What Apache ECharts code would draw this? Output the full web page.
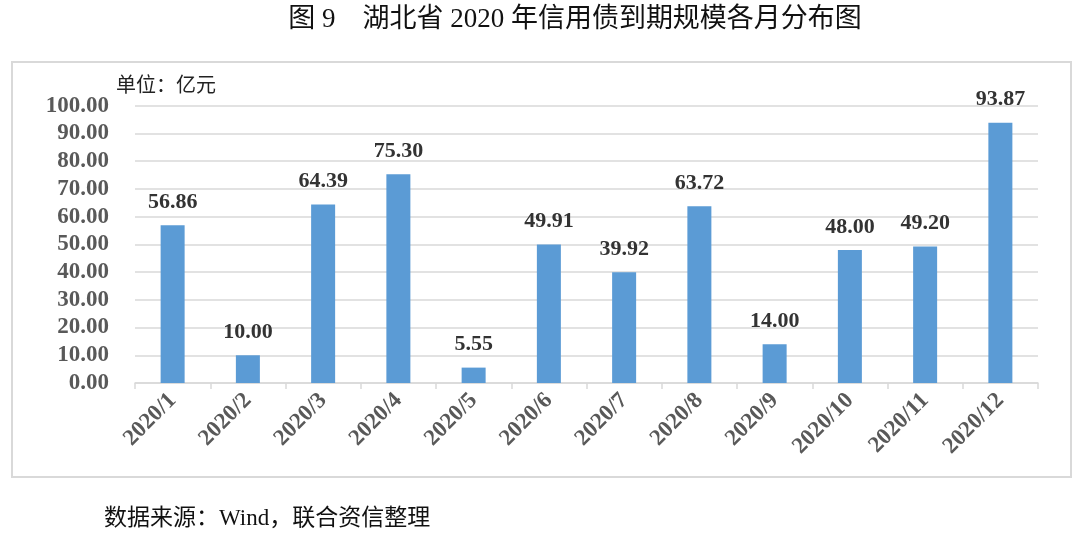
<!DOCTYPE html>
<html>
<head>
<meta charset="utf-8">
<script src="https://cdn.jsdelivr.net/npm/echarts@6/dist/echarts.min.js"></script>
<style>
html,body{margin:0;padding:0;background:#fff;}
#chart{width:1080px;height:540px;}
</style>
</head>
<body>
<div id="chart"></div>
<script>
var categories = ['2020/1','2020/2','2020/3','2020/4','2020/5','2020/6','2020/7','2020/8','2020/9','2020/10','2020/11','2020/12'];
var values = [56.86, 10.00, 64.39, 75.30, 5.55, 49.91, 39.92, 63.72, 14.00, 48.00, 49.20, 93.87];
var titleText = '图 9\u3000湖北省 2020 年信用债到期规模各月分布图';
var unitText = '单位：亿元';
var sourceText = '数据来源：Wind，联合资信整理';

var SERIF = "'Liberation Serif','Times New Roman','Noto Sans CJK SC',serif";
var chart = echarts.init(document.getElementById('chart'), null, {renderer:'canvas'});
chart.setOption({
  backgroundColor:'#fff',
  animation:false,
  graphic:[
    {type:'rect', shape:{x:12, y:62, width:1059, height:415}, style:{fill:'none', stroke:'#d9d9d9', lineWidth:2}, silent:true, z:-1},
    {type:'text', x:575, y:6, style:{text:titleText, font:"27px "+SERIF, fill:'#111', align:'center'}},
    {type:'text', left:116, top:77, style:{text:unitText, font:"20px "+SERIF, fill:'#222'}},
    {type:'text', left:104, top:507, style:{text:sourceText, font:"23px "+SERIF, fill:'#111'}}
  ],
  grid:{left:135, right:42, top:105.7, bottom:157, containLabel:false},
  xAxis:{
    type:'category', data:categories,
    axisLine:{lineStyle:{color:'#d9d9d9', width:1.5}},
    axisTick:{show:true, length:6, lineStyle:{color:'#d9d9d9', width:1.5}},
    axisLabel:{rotate:45, margin:14, color:'#595959', fontFamily:SERIF, fontWeight:'bold', fontSize:23}
  },
  yAxis:{
    type:'value', min:0, max:100, interval:10,
    axisLine:{show:false}, axisTick:{show:false},
    splitLine:{lineStyle:{color:'#d9d9d9', width:1.5}},
    axisLabel:{margin:26, color:'#595959', fontFamily:SERIF, fontWeight:'bold', fontSize:23,
      formatter:function(v){return v.toFixed(2);}}
  },
  series:[{
    type:'bar', data:values, barWidth:24,
    itemStyle:{color:'#5B9BD5'},
    label:{show:true, position:'top', distance:12, color:'#333', fontFamily:SERIF, fontWeight:'bold', fontSize:22,
      formatter:function(p){return p.value.toFixed(2);}}
  }]
});
</script>
</body>
</html>
